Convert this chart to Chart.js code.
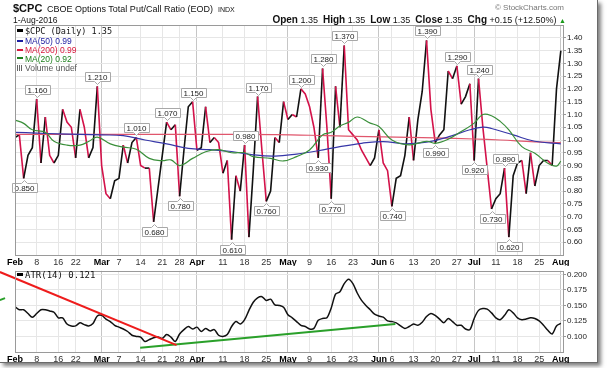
<!DOCTYPE html>
<html>
<head>
<meta charset="utf-8">
<title>$CPC</title>
<script src="https://cdn.jsdelivr.net/npm/chart.js@4.4.1/dist/chart.umd.min.js"></script>
<style>
  html, body { margin: 0; padding: 0; background: #fff; }
  #page { position: relative; width: 609px; height: 368px; overflow: hidden; font-family: "Liberation Sans", Arial, sans-serif; color: #111; }
  #frame { position: absolute; left: 0; top: 0; width: 597px; height: 362px; border-right: 1px solid #6a6a6a; border-bottom: 1px solid #6a6a6a; box-shadow: 3px 3px 4px rgba(0,0,0,0.5); background: #fff; }
  canvas { position: absolute; left: 0; }
  #cpcChart { top: 0; }
  #atrChart { top: 265px; }
  .txt { position: absolute; white-space: nowrap; line-height: 12px; }
  .mono { font-family: "DejaVu Sans Mono", monospace; }
  .dash { display: inline-block; width: 6px; height: 2px; vertical-align: middle; margin-right: 2px; position: relative; top: -1px; }
  .vol { display: inline-block; width: 6px; height: 6px; margin-right: 2px; background: repeating-linear-gradient(90deg, #666 0 1px, transparent 1px 2px); }
</style>
</head>
<body>
<div id="page">
  <div id="frame"></div>
  <canvas id="cpcChart" width="609" height="266"></canvas>
  <canvas id="atrChart" width="609" height="98"></canvas>

  <div class="txt" style="left:13px;top:2px;font-size:11px;font-weight:bold;line-height:13px">$CPC</div>
  <div class="txt" style="left:47px;top:3px;font-size:9px">CBOE Options Total Put/Call Ratio (EOD)</div>
  <div class="txt" style="left:218px;top:4px;font-size:7px">INDX</div>
  <div class="txt" style="left:13px;top:14px;font-size:8.5px">1-Aug-2016</div>
  <div class="txt" style="right:45px;top:2px;font-size:8px;color:#777">&copy; StockCharts.com</div>
  <div class="txt" style="right:43px;top:14px;font-size:9px"><b style="font-size:10px">Open</b> 1.35 &nbsp;<b style="font-size:10px">High</b> 1.35 &nbsp;<b style="font-size:10px">Low</b> 1.35 &nbsp;<b style="font-size:10px">Close</b> 1.35 &nbsp;<b style="font-size:10px">Chg</b> +0.15 (+12.50%) <span style="color:#1a9a1a;font-size:7px">&#9650;</span></div>

  <div class="txt mono" style="left:17px;top:25px;font-size:8.5px"><span class="dash" style="background:#000;height:3px"></span>$CPC (Daily) 1.35</div>
  <div class="txt" style="left:17px;top:35px;font-size:8.5px;color:#1c1ca0"><span class="dash" style="background:#1c1ca0"></span>MA(50) 0.99</div>
  <div class="txt" style="left:17px;top:44px;font-size:8.5px;color:#d8183c"><span class="dash" style="background:#d8183c"></span>MA(200) 0.99</div>
  <div class="txt" style="left:17px;top:52.5px;font-size:8.5px;color:#1d801d"><span class="dash" style="background:#1d801d"></span>MA(20) 0.92</div>
  <div class="txt" style="left:17px;top:61.5px;font-size:8.5px;color:#555"><span class="vol"></span>Volume undef</div>

  <div class="txt mono" style="left:17px;top:269px;font-size:9px"><span class="dash" style="background:#000;height:3px"></span>ATR(14) 0.121</div>
</div>

<script>
// trading days shown on the chart (x categories)
const days = [
  'Feb 1','Feb 2','Feb 3','Feb 4','Feb 5','Feb 8','Feb 9','Feb 10','Feb 11','Feb 12','Feb 16','Feb 17','Feb 18','Feb 19','Feb 22','Feb 23','Feb 24','Feb 25','Feb 26','Feb 29',
  'Mar 1','Mar 2','Mar 3','Mar 4','Mar 7','Mar 8','Mar 9','Mar 10','Mar 11','Mar 14','Mar 15','Mar 16','Mar 17','Mar 18','Mar 21','Mar 22','Mar 23','Mar 24','Mar 28','Mar 29','Mar 30','Mar 31',
  'Apr 1','Apr 4','Apr 5','Apr 6','Apr 7','Apr 8','Apr 11','Apr 12','Apr 13','Apr 14','Apr 15','Apr 18','Apr 19','Apr 20','Apr 21','Apr 22','Apr 25','Apr 26','Apr 27','Apr 28','Apr 29',
  'May 2','May 3','May 4','May 5','May 6','May 9','May 10','May 11','May 12','May 13','May 16','May 17','May 18','May 19','May 20','May 23','May 24','May 25','May 26','May 27','May 31',
  'Jun 1','Jun 2','Jun 3','Jun 6','Jun 7','Jun 8','Jun 9','Jun 10','Jun 13','Jun 14','Jun 15','Jun 16','Jun 17','Jun 20','Jun 21','Jun 22','Jun 23','Jun 24','Jun 27','Jun 28','Jun 29','Jun 30',
  'Jul 1','Jul 5','Jul 6','Jul 7','Jul 8','Jul 11','Jul 12','Jul 13','Jul 14','Jul 15','Jul 18','Jul 19','Jul 20','Jul 21','Jul 22','Jul 25','Jul 26','Jul 27','Jul 28','Jul 29',
  'Aug 1'
];

// $CPC daily close
const cpc = [
  1.01,1.02,0.85,0.94,0.97,1.16,0.91,1.09,0.94,0.91,0.94,1.12,1.07,1.05,0.93,1.12,1.05,0.93,0.97,1.21,
  0.90,0.79,0.77,0.84,0.85,0.98,0.91,0.99,1.01,0.90,0.89,0.89,0.68,0.81,0.94,1.07,1.04,1.06,0.78,0.96,1.13,1.15,
  0.96,0.97,1.13,0.99,1.01,0.99,0.87,0.92,0.61,0.86,0.80,0.98,0.62,0.88,1.17,0.96,0.76,0.80,1.01,0.99,1.15,
  1.08,1.10,1.09,1.20,1.18,1.13,1.05,0.93,1.28,1.05,0.77,1.21,1.05,1.37,1.04,1.02,1.00,0.96,0.93,0.90,0.93,
  1.04,0.91,0.88,0.74,0.85,0.86,0.94,1.09,0.92,1.08,1.19,1.39,1.12,0.99,1.02,1.04,1.27,1.24,1.29,1.14,1.17,1.22,
  0.92,1.24,1.05,0.89,0.73,0.77,0.79,0.89,0.62,0.86,0.91,0.92,0.79,0.95,0.82,0.90,0.92,0.92,0.90,1.20,
  1.35
];

// labelled highs and lows
const peakDays = ['Feb 8','Feb 29','Mar 11','Mar 22','Mar 31','Apr 18','Apr 21','May 5','May 12','May 19','Jun 16','Jun 27','Jul 5','Jul 13'];
const troughDays = ['Feb 3','Mar 17','Mar 28','Apr 13','Apr 25','May 11','May 16','Jun 6','Jun 20','Jul 1','Jul 8','Jul 14'];

// moving averages, read at trading-day positions
const ma50Day = [0,5,10,15,20,25,30,35,40,45,50,55,60,65,70,75,80,85,90,95,100,105,108,110,115,120,126];
const ma50 = [1.030,1.027,1.024,1.022,1.020,1.017,1.000,0.985,0.967,0.962,0.955,0.942,0.937,0.945,0.958,0.974,0.987,0.994,0.985,0.992,1.012,1.040,1.050,1.045,1.020,0.995,0.985];
const ma200Day = [0,20,40,60,72,85,97,106,112,120,126];
const ma200 = [1.022,1.022,1.022,1.021,1.017,1.012,1.008,1.004,1.000,0.993,0.990];
const ma20Day = [0,2,4,7,9,12,15,17,19,22,25,28,31,34,36,38,41,44,47,50,53,55,59,62,65,68,71,73,75,77,79,82,84,87,91,95,97,100,103,106,108,110,112,114,117,120,123,125,126];
const ma20 = [1.078,1.065,1.040,1.030,0.995,0.980,0.980,0.994,1.011,0.985,0.972,0.964,0.928,0.919,0.922,0.900,0.928,0.954,0.962,0.950,0.950,0.935,0.928,0.918,0.935,0.961,1.020,1.030,1.055,1.069,1.090,1.066,1.053,1.000,0.981,0.995,0.987,1.003,1.033,1.066,1.100,1.095,1.073,1.040,0.974,0.948,0.909,0.898,0.917];

// ATR(14), one reading per trading day
const atr = [
  0.148,0.143,0.143,0.137,0.131,0.137,0.143,0.143,0.141,0.139,0.130,0.130,0.120,0.117,0.117,0.122,0.119,0.117,0.121,0.133,
  0.134,0.128,0.124,0.118,0.115,0.112,0.108,0.102,0.100,0.099,0.092,0.095,0.098,0.099,0.097,0.103,0.099,0.092,0.104,0.111,0.116,0.112,
  0.115,0.108,0.113,0.109,0.111,0.102,0.100,0.103,0.116,0.124,0.120,0.127,0.142,0.155,0.162,0.164,0.158,0.160,0.151,0.150,0.147,
  0.135,0.130,0.124,0.118,0.116,0.112,0.113,0.126,0.129,0.130,0.146,0.168,0.172,0.185,0.192,0.185,0.170,0.158,0.150,0.143,0.136,
  0.133,0.131,0.125,0.124,0.122,0.117,0.113,0.116,0.120,0.118,0.123,0.132,0.137,0.134,0.128,0.122,0.129,0.124,0.118,0.118,0.112,0.111,
  0.129,0.142,0.145,0.144,0.138,0.130,0.127,0.134,0.143,0.138,0.130,0.127,0.128,0.130,0.129,0.125,0.118,0.110,0.104,0.117,
  0.121
];

// hand-drawn trend lines on the ATR panel: [day, value] end points
const atrRedLine = [[-3.5, 0.2037], [37.3, 0.086]];
const atrGreenLine = [[28.9, 0.082], [87.8, 0.120]];
const atrGreenStub = [[-3.5, 0.1586], [-2.3, 0.1617]];

// axis ticks
const tickDays = ['Feb 1','Feb 8','Feb 16','Feb 22','Mar 1','Mar 7','Mar 14','Mar 21','Mar 28','Apr 1','Apr 11','Apr 18','Apr 25','May 2','May 9','May 16','May 23','Jun 1','Jun 6','Jun 13','Jun 20','Jun 27','Jul 1','Jul 11','Jul 18','Jul 25','Aug 1'];
const tickLabels = ['Feb','8','16','22','Mar','7','14','21','28','Apr','11','18','25','May','9','16','23','Jun','6','13','20','27','Jul','11','18','25','Aug'];
const cpcTicks = [0.60,0.65,0.70,0.75,0.80,0.85,0.90,0.95,1.00,1.05,1.10,1.15,1.20,1.25,1.30,1.35,1.40];
const atrTicks = [0.100,0.125,0.150,0.175,0.200];

const FONT = '"Liberation Sans", Arial, sans-serif';
const UP = '#111111', DOWN = '#d3124a';
const xTickPos = tickDays.map(d => days.indexOf(d));
const toXY = (xs, ys) => xs.map((x, i) => ({ x: x, y: ys[i] }));
const isMonth = t => t && /[A-Z]/.test(tickLabels[xTickPos.indexOf(t.value)] || '');

function xAxis() {
  return {
    type: 'linear', min: 0, max: days.length - 0.5,
    afterBuildTicks: s => { s.ticks = xTickPos.map(v => ({ value: v })); },
    afterFit: s => { s.height = 11; },
    grid: { color: c => isMonth(c.tick) ? '#c6c6c6' : '#e6e6e6', drawTicks: false },
    border: { display: false },
    ticks: {
      autoSkip: false, maxRotation: 0, padding: 2,
      color: c => isMonth(c.tick) ? '#000' : '#333',
      font: c => ({ family: FONT, size: 9, weight: isMonth(c.tick) ? 'bold' : 'normal' }),
      callback: v => tickLabels[xTickPos.indexOf(v)]
    }
  };
}

function yAxis(min, max, ticks, digits) {
  return {
    position: 'right', min: min, max: max,
    afterBuildTicks: s => { s.ticks = ticks.map(v => ({ value: v })); },
    afterFit: s => { s.width = 46; },
    grid: { color: '#e6e6e6', tickLength: 3, tickColor: '#999' },
    border: { display: false },
    ticks: { padding: 1, color: '#222', font: { family: FONT, size: 8 }, callback: v => v.toFixed(digits) }
  };
}

// plot frame
const framePlugin = {
  id: 'frame',
  afterDraw(chart) {
    const { ctx, chartArea: a } = chart;
    ctx.save();
    ctx.strokeStyle = '#9a9a9a';
    ctx.lineWidth = 1;
    ctx.strokeRect(Math.round(a.left) + 0.5, Math.round(a.top) + 0.5, Math.round(a.right - a.left), Math.round(a.bottom - a.top));
    ctx.restore();
  }
};

// value boxes on highs and lows
const valueBoxes = {
  id: 'valueBoxes',
  afterDatasetsDraw(chart) {
    const { ctx, scales: { x, y } } = chart;
    ctx.save();
    ctx.font = '8px ' + FONT;
    ctx.textAlign = 'center';
    ctx.textBaseline = 'middle';
    const draw = (day, up) => {
      const i = days.indexOf(day);
      const v = cpc[i];
      const px = Math.round(x.getPixelForValue(i)) + 0.5;
      const py = Math.round(y.getPixelForValue(v));
      const txt = v.toFixed(3);
      const w = Math.round(ctx.measureText(txt).width) + 5, h = 9;
      const l = Math.round(px - w / 2) + 0.5, r = l + w;
      const t = up ? py - 5 - h + 0.5 : py + 5 + 0.5, b = t + h;
      ctx.beginPath();
      if (up) {
        ctx.moveTo(l, t); ctx.lineTo(r, t); ctx.lineTo(r, b); ctx.lineTo(px + 3, b);
        ctx.lineTo(px, b + 3); ctx.lineTo(px - 3, b); ctx.lineTo(l, b);
      } else {
        ctx.moveTo(l, t); ctx.lineTo(px - 3, t); ctx.lineTo(px, t - 3); ctx.lineTo(px + 3, t);
        ctx.lineTo(r, t); ctx.lineTo(r, b); ctx.lineTo(l, b);
      }
      ctx.closePath();
      ctx.fillStyle = '#fff';
      ctx.fill();
      ctx.strokeStyle = '#a8a8a8';
      ctx.lineWidth = 1;
      ctx.stroke();
      ctx.fillStyle = '#222';
      ctx.fillText(txt, px, (t + b) / 2 + 0.5);
    };
    peakDays.forEach(d => draw(d, true));
    troughDays.forEach(d => draw(d, false));
    ctx.restore();
  }
};

const common = {
  responsive: false, animation: false, devicePixelRatio: 1,
  plugins: { legend: { display: false }, tooltip: { enabled: false } },
  elements: { point: { radius: 0 } }
};

new Chart(document.getElementById('cpcChart'), {
  type: 'line',
  data: {
    datasets: [
      { data: toXY(ma20Day, ma20), borderColor: '#3a8f3a', borderWidth: 1.2, tension: 0.4 },
      { data: toXY(ma50Day, ma50), borderColor: '#3737a8', borderWidth: 1.2, tension: 0.4 },
      { data: toXY(ma200Day, ma200), borderColor: '#e0566c', borderWidth: 1.2, tension: 0.4 },
      {
        data: cpc.map((v, i) => ({ x: i, y: v })), borderWidth: 1.6, borderColor: UP, tension: 0,
        segment: { borderColor: c => c.p1.parsed.y < c.p0.parsed.y ? DOWN : UP }
      }
    ]
  },
  options: Object.assign({}, common, {
    layout: { padding: { left: 15, top: 25, right: 0, bottom: 0 } },
    scales: { x: xAxis(), y: yAxis(0.55, 1.45, cpcTicks, 2) }
  }),
  plugins: [framePlugin, valueBoxes]
});

const line = pts => pts.map(p => ({ x: p[0], y: p[1] }));

new Chart(document.getElementById('atrChart'), {
  type: 'line',
  data: {
    datasets: [
      { data: line(atrRedLine), borderColor: '#ee1c1c', borderWidth: 2, clip: false },
      { data: line(atrGreenLine), borderColor: '#2aa02a', borderWidth: 2, clip: false },
      { data: line(atrGreenStub), borderColor: '#2aa02a', borderWidth: 2, clip: false },
      { data: atr.map((v, i) => ({ x: i, y: v })), borderColor: '#111', borderWidth: 1.5, tension: 0.3 }
    ]
  },
  options: Object.assign({}, common, {
    layout: { padding: { left: 15, top: 2, right: 0, bottom: 0 } },
    scales: { x: xAxis(), y: yAxis(0.075, 0.2057, atrTicks, 3) }
  }),
  plugins: [framePlugin]
});
</script>
</body>
</html>
